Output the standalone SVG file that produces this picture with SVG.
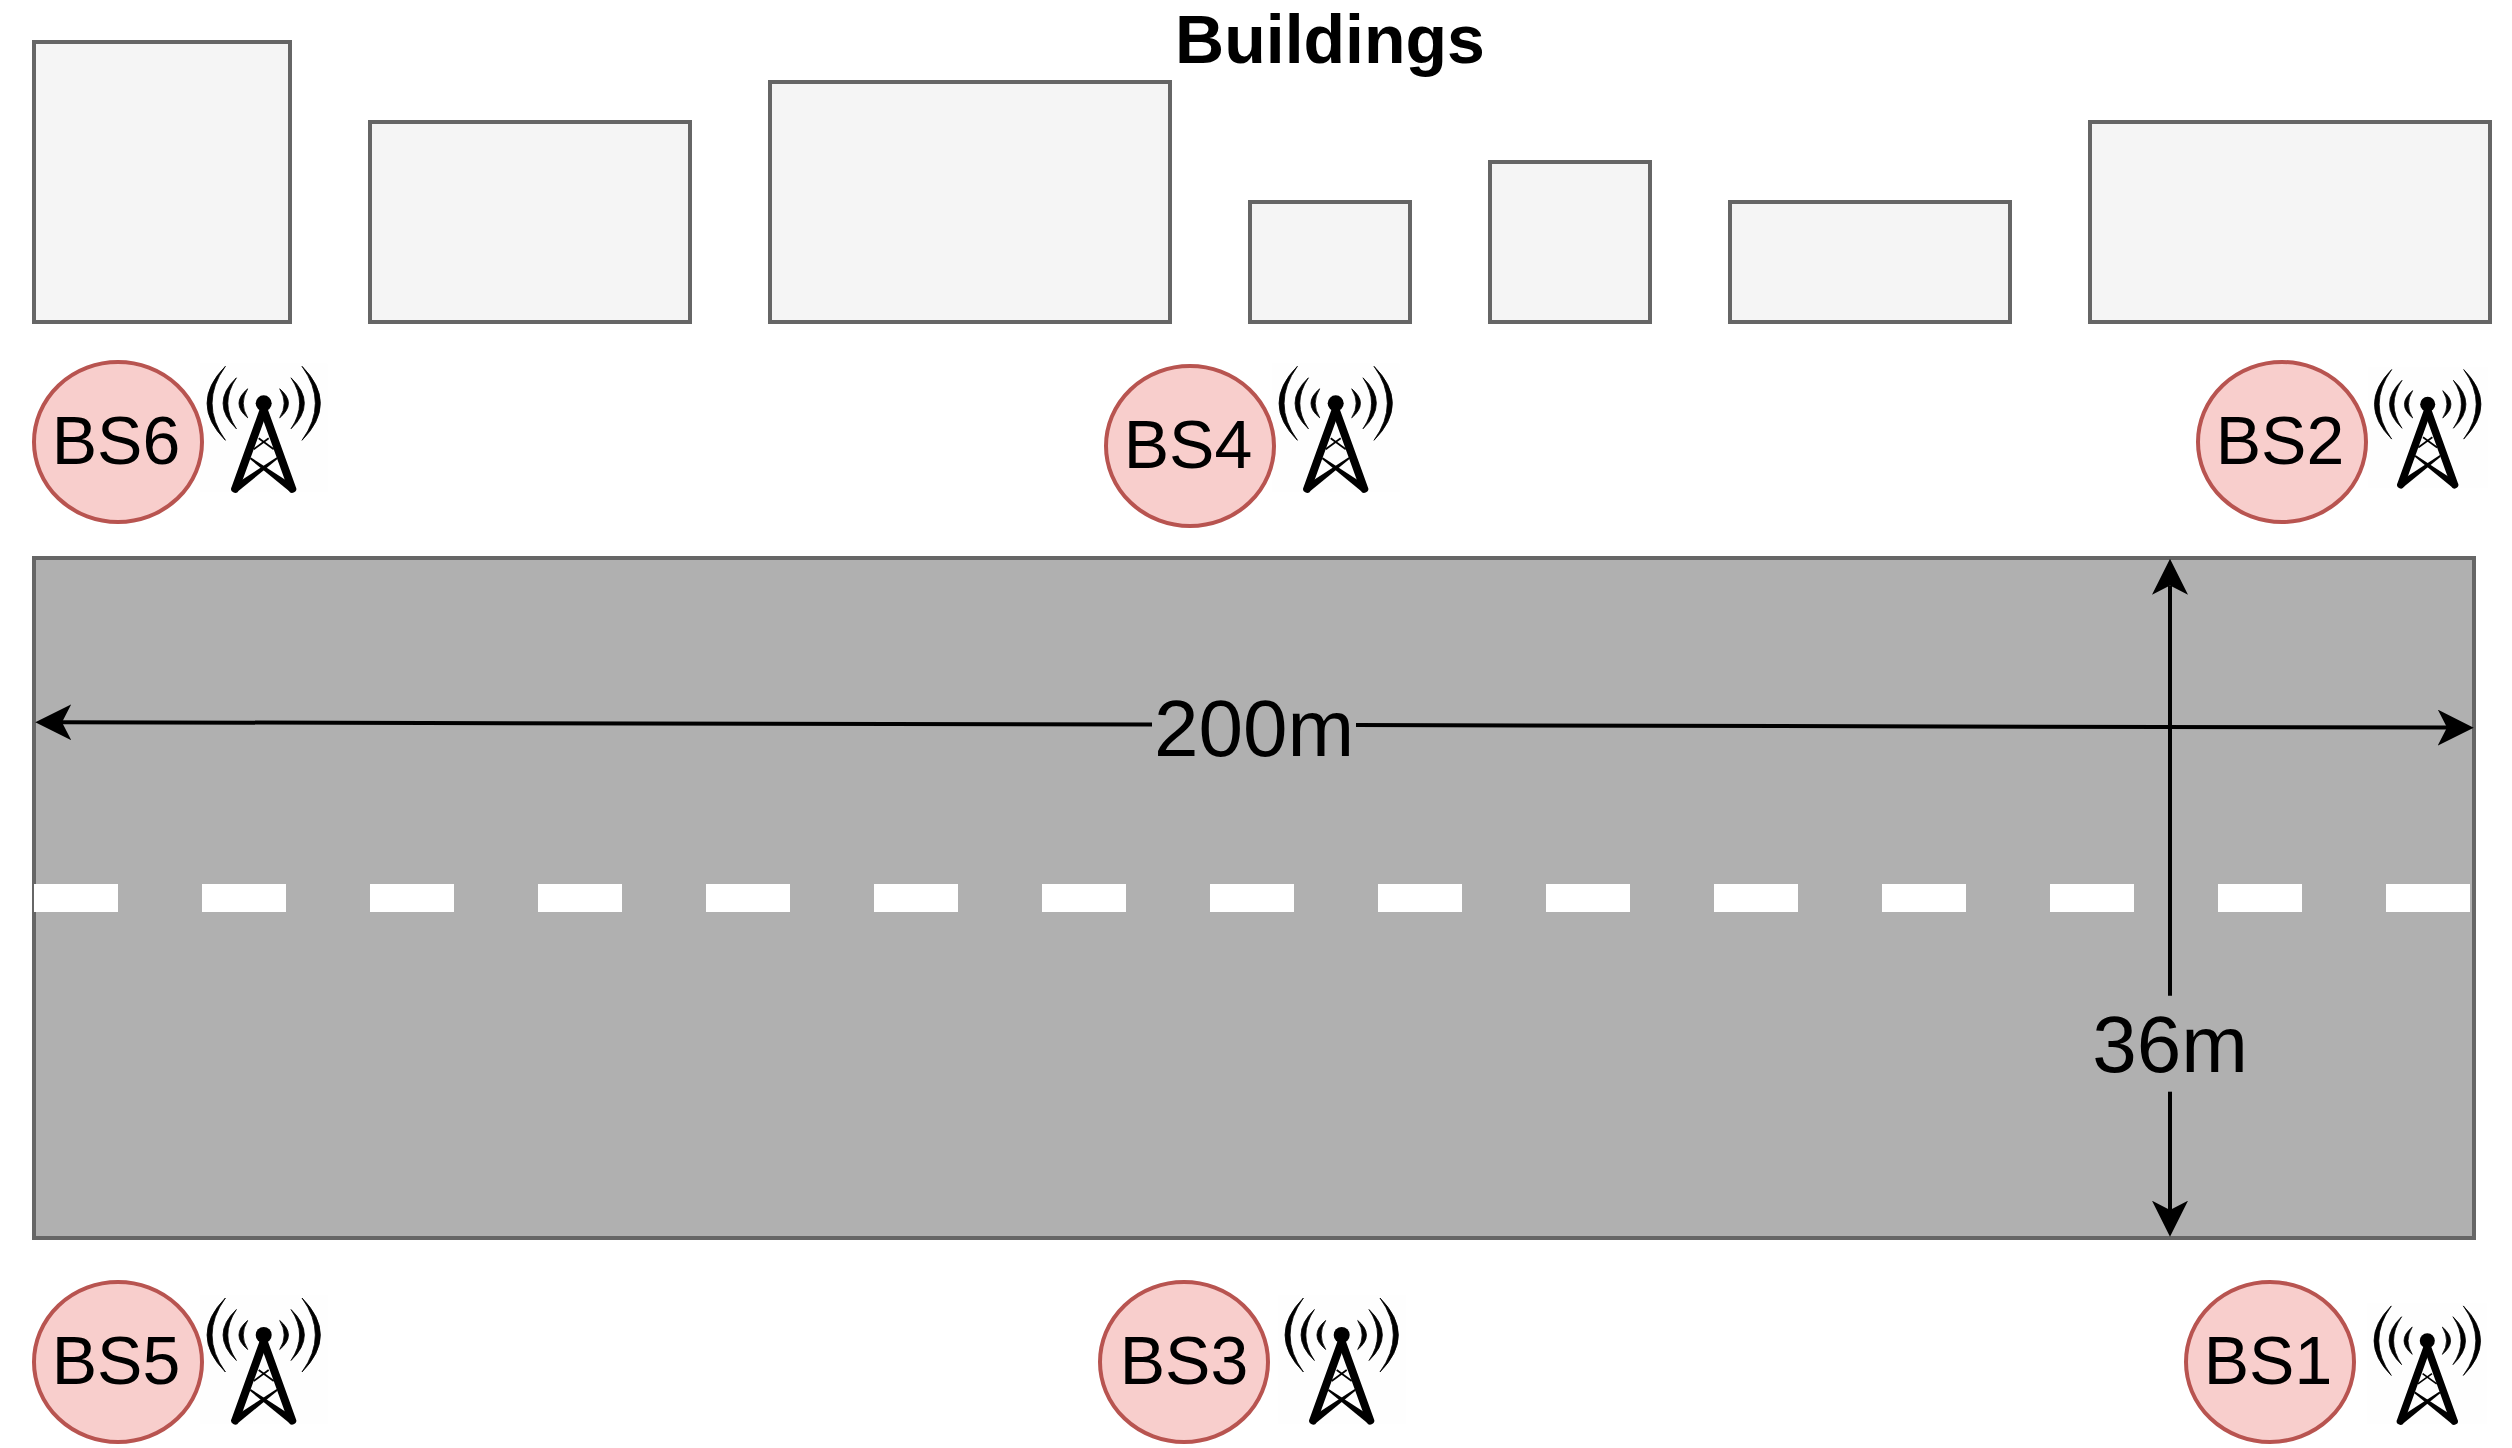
<svg xmlns="http://www.w3.org/2000/svg" width="2512" height="1448" viewBox="0 0 2512 1448">
<style>
.b{fill:#f5f5f5;stroke:#666666;stroke-width:4}
.bs{fill:#f8cecc;stroke:#b85450;stroke-width:4}
.t{font-family:"Liberation Sans",Arial,sans-serif;fill:#000;text-anchor:middle}
.n{font-size:68px}
.l{font-size:80px}
.c{fill:none;stroke:#000;stroke-width:4}
.arc{stroke:#000;stroke-width:.8}
</style>
<defs>
<marker id="arrow" markerUnits="userSpaceOnUse" markerWidth="36" markerHeight="36" viewBox="0 0 36 36" refX="9.3" refY="18" orient="auto-start-reverse">
<path d="M36 18L0 0L9.3 18L0 36Z" fill="#000"/>
</marker>
<g id="half">
<path class="arc" d="M-38.3-37Q-75 0-38.3 37Q-65 0-38.3-37Z"/>
<path class="arc" d="M-27.3-25.5Q-54 0-27.3 25.5Q-44.5 0-27.3-25.5Z"/>
<path class="arc" d="M-16-14.5Q-33.5 0-16 14.5Q-25 0-16-14.5Z"/>
<path d="M-3 3L-32 83.5A3.8 3.8 0 0 0-25 87.5L3 10Z"/>
<path d="M-30 82L13 54L13.8 55.8L-25 87.5Z"/>
<path d="M5 35L-10 46" stroke="#000" stroke-width="1.8"/>
</g>
<g id="tower">
<rect x="-64" y="-40" width="128" height="129" fill="#fefefe"/>
<use href="#half"/>
<use href="#half" transform="scale(-1 1)"/>
<circle r="8"/>
</g>
</defs>
<g id="title"><text class="t" x="1330" y="63" font-size="68" font-weight="bold">Buildings</text></g>
<g id="buildings">
<rect id="building1" class="b" x="34" y="42" width="256" height="280"/>
<rect id="building2" class="b" x="370" y="122" width="320" height="200"/>
<rect id="building3" class="b" x="770" y="82" width="400" height="240"/>
<rect id="building4" class="b" x="1250" y="202" width="160" height="120"/>
<rect id="building5" class="b" x="1490" y="162" width="160" height="160"/>
<rect id="building6" class="b" x="1730" y="202" width="280" height="120"/>
<rect id="building7" class="b" x="2090" y="122" width="400" height="200"/>
</g>
<g id="road">
<rect x="34" y="558" width="2440" height="680" fill="#b0b0b0" stroke="#666666" stroke-width="4"/>
<g id="lane" fill="#fff">
<rect x="34" y="884" width="84" height="28"/><rect x="202" y="884" width="84" height="28"/><rect x="370" y="884" width="84" height="28"/><rect x="538" y="884" width="84" height="28"/><rect x="706" y="884" width="84" height="28"/><rect x="874" y="884" width="84" height="28"/><rect x="1042" y="884" width="84" height="28"/><rect x="1210" y="884" width="84" height="28"/><rect x="1378" y="884" width="84" height="28"/><rect x="1546" y="884" width="84" height="28"/><rect x="1714" y="884" width="84" height="28"/><rect x="1882" y="884" width="84" height="28"/><rect x="2050" y="884" width="84" height="28"/><rect x="2218" y="884" width="84" height="28"/><rect x="2386" y="884" width="84" height="28"/>
</g>
</g>
<g id="connectors">
<path class="c" d="M62 722.2L1152 724.6" marker-start="url(#arrow)"/>
<path class="c" d="M1356 725.1L2447 727.6" marker-end="url(#arrow)"/>
<path class="c" d="M2170 995.7L2170 585.5" marker-end="url(#arrow)"/>
<path class="c" d="M2170 1091.7L2170 1210" marker-end="url(#arrow)"/>
</g>
<g id="labels">
<text class="t l" x="1254" y="756">200m</text>
<text class="t l" x="2170" y="1072">36m</text>
</g>
<g id="BS6"><use href="#tower" transform="translate(263.7 403.3)"/><ellipse class="bs" cx="118" cy="442" rx="84" ry="80"/><text class="t n" x="116" y="464">BS6</text></g>
<g id="BS4"><use href="#tower" transform="translate(1335.7 403.3)"/><ellipse class="bs" cx="1190" cy="446" rx="84" ry="80"/><text class="t n" x="1188" y="468">BS4</text></g>
<g id="BS2"><use href="#tower" transform="translate(2427.7 404.3) scale(.94)"/><ellipse class="bs" cx="2282" cy="442" rx="84" ry="80"/><text class="t n" x="2280" y="464">BS2</text></g>
<g id="BS5"><use href="#tower" transform="translate(263.7 1335)"/><ellipse class="bs" cx="118" cy="1362" rx="84" ry="80"/><text class="t n" x="116" y="1384">BS5</text></g>
<g id="BS3"><use href="#tower" transform="translate(1341.7 1335)"/><ellipse class="bs" cx="1184" cy="1362" rx="84" ry="80"/><text class="t n" x="1184" y="1384">BS3</text></g>
<g id="BS1"><use href="#tower" transform="translate(2427.3 1340.7) scale(.94)"/><ellipse class="bs" cx="2270" cy="1362" rx="84" ry="80"/><text class="t n" x="2268" y="1384">BS1</text></g>
</svg>
